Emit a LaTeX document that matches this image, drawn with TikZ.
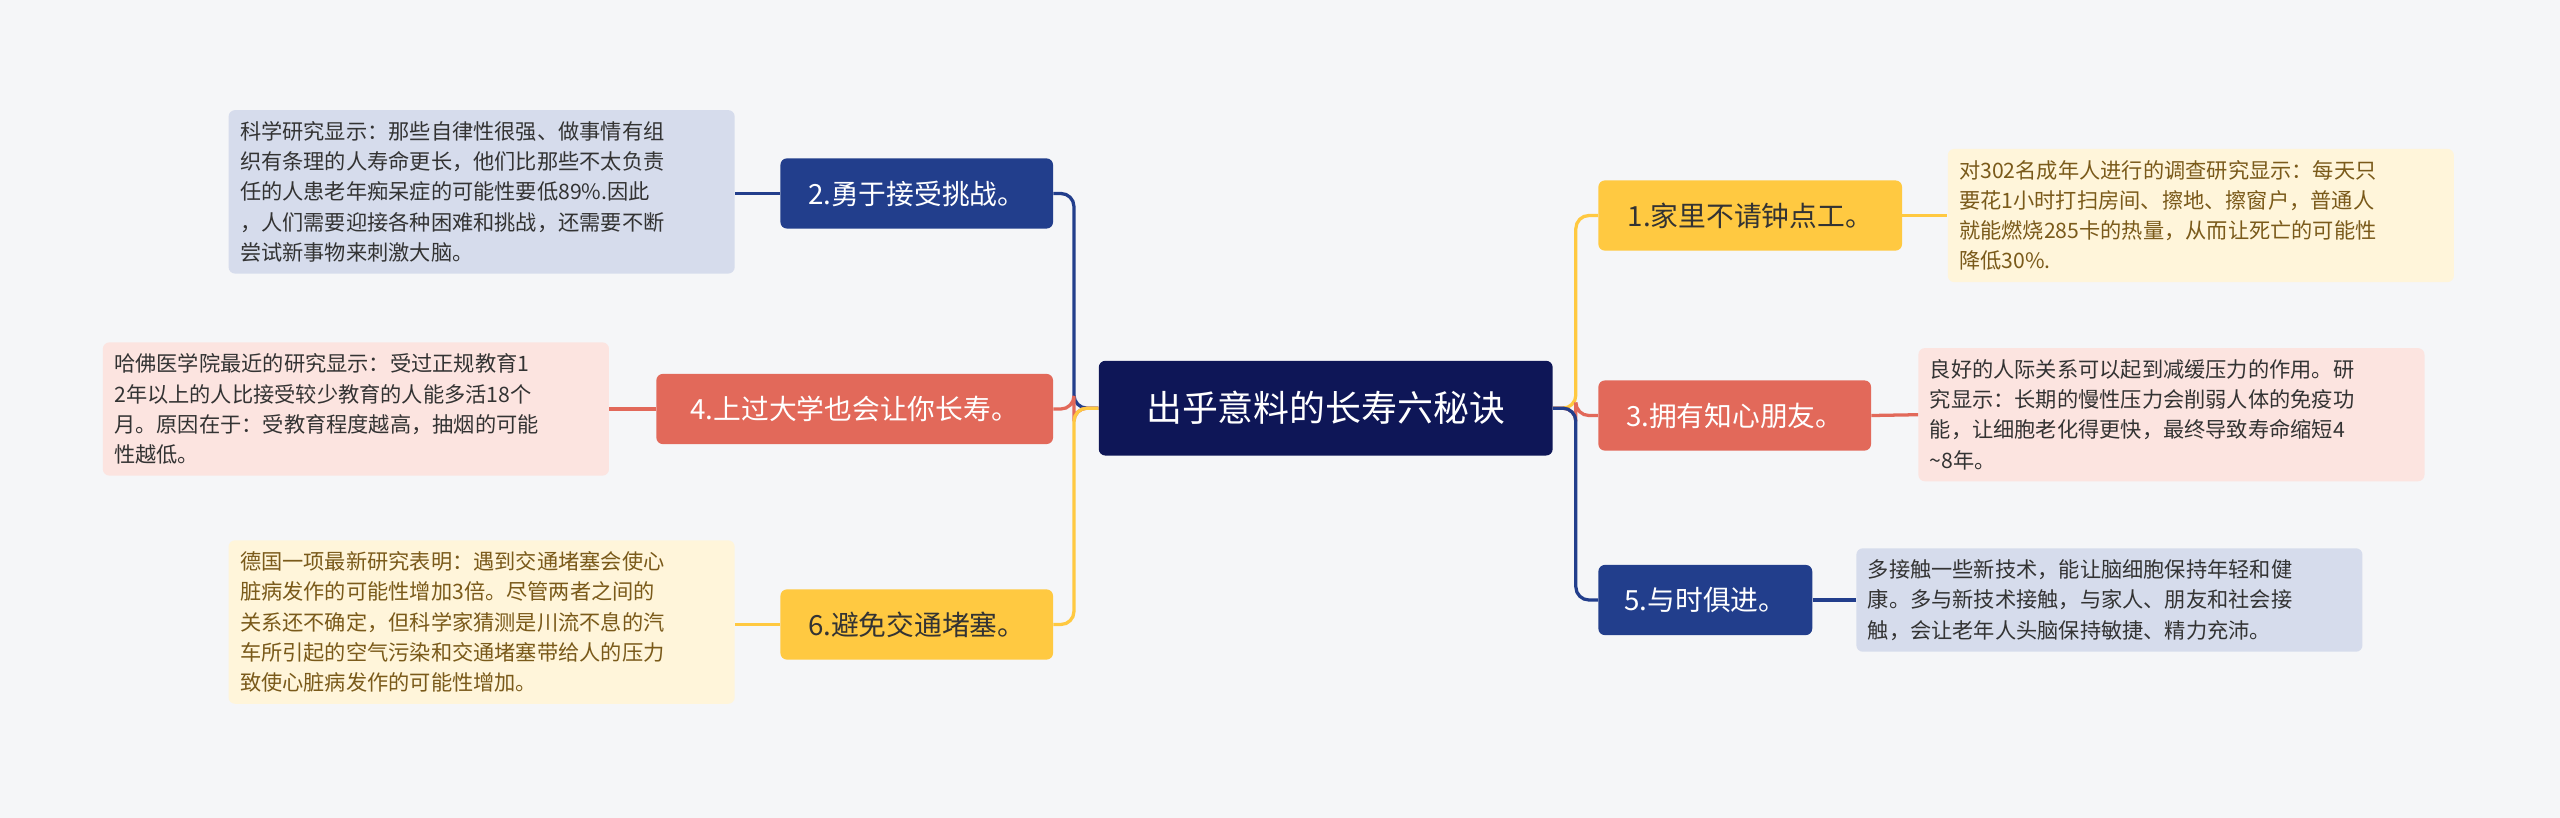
\documentclass[tikz,border=0pt]{standalone}
\usepackage{fontspec}
\setmainfont{Noto Sans CJK SC}
\usetikzlibrary{positioning}
\definecolor{bgc}{HTML}{F5F6F8}
\definecolor{hubc}{HTML}{0E1657}
\definecolor{navy}{HTML}{223E8C}
\definecolor{gold}{HTML}{FFC941}
\definecolor{coral}{HTML}{E2695A}
\definecolor{goldnote}{HTML}{FFF5DA}
\definecolor{coralnote}{HTML}{FCE4E0}
\definecolor{navynote}{HTML}{D6DCEC}
\definecolor{goldtext}{HTML}{7A5A1A}
\definecolor{darktext}{HTML}{333333}
\tikzset{
    % central topic
    hub/.style={
        rectangle, rounded corners=4pt, fill=hubc, text=white,
        minimum width=278pt, minimum height=58pt,
        font=\fontsize{22}{26}\selectfont
    },
    % main branch
    branch/.style={
        rectangle, rounded corners=4pt, fill=#1,
        minimum height=43pt, inner xsep=9pt,
        font=\fontsize{17}{20}\selectfont
    },
    % note box
    note/.style={
        rectangle, rounded corners=4pt, fill=#1,
        text width=296pt, inner sep=7pt, align=left,
        font=\fontsize{13}{18.5}\selectfont
    },
    % connectors
    link/.style={draw=#1, line width=2pt, rounded corners=8pt}
}
\begin{document}
\begin{tikzpicture}[x=1pt, y=-1pt]
    \fill[bgc] (0,0) rectangle (1568,501);
    \useasboundingbox (0,0) rectangle (1568,501);

    % central topic
    \node[hub] (hub) at (812,250) {出乎意料的长寿六秘诀};

    % right branches
    \node[branch=gold, text=darktext, minimum width=186pt] (tip1) at (1072,132) {1.家里不请钟点工。};
    \node[branch=coral, text=white, minimum width=167pt] (tip3) at (1062.5,254.5) {3.拥有知心朋友。};
    \node[branch=navy, text=white, minimum width=131pt] (tip5) at (1044.5,367.5) {5.与时俱进。};

    % left branches
    \node[branch=navy, text=white, minimum width=167pt] (tip2) at (561.5,118.5) {2.勇于接受挑战。};
    \node[branch=coral, text=white, minimum width=243pt] (tip4) at (523.5,250.5) {4.上过大学也会让你长寿。};
    \node[branch=gold, text=darktext, minimum width=167pt] (tip6) at (561.5,382.5) {6.避免交通堵塞。};

    % notes
    \node[note=goldnote, text=goldtext] (note1) at (1348,132) {对302名成年人进行的调查研究显示：每天只\\要花1小时打扫房间、擦地、擦窗户，普通人\\就能燃烧285卡的热量，从而让死亡的可能性\\降低30\%.};
    \node[note=coralnote, text=darktext] (note3) at (1330,254) {良好的人际关系可以起到减缓压力的作用。研\\究显示：长期的慢性压力会削弱人体的免疫功\\能，让细胞老化得更快，最终导致寿命缩短4\\\textasciitilde8年。};
    \node[note=navynote, text=darktext] (note5) at (1292,367.5) {多接触一些新技术，能让脑细胞保持年轻和健\\康。多与新技术接触，与家人、朋友和社会接\\触，会让老年人头脑保持敏捷、精力充沛。};
    \node[note=navynote, text=darktext] (note2) at (295,117.5) {科学研究显示：那些自律性很强、做事情有组\\织有条理的人寿命更长，他们比那些不太负责\\任的人患老年痴呆症的可能性要低89\%.因此\\，人们需要迎接各种困难和挑战，还需要不断\\尝试新事物来刺激大脑。};
    \node[note=coralnote, text=darktext] (note4) at (218,250.5) {哈佛医学院最近的研究显示：受过正规教育1\\2年以上的人比接受较少教育的人能多活18个\\月。原因在于：受教育程度越高，抽烟的可能\\性越低。};
    \node[note=goldnote, text=goldtext] (note6) at (295,381) {德国一项最新研究表明：遇到交通堵塞会使心\\脏病发作的可能性增加3倍。尽管两者之间的\\关系还不确定，但科学家猜测是川流不息的汽\\车所引起的空气污染和交通堵塞带给人的压力\\致使心脏病发作的可能性增加。};

    % connectors
    \draw[link=gold] (hub.east) -- ++(14,0) |- (tip1.west);
    \draw[link=coral] (hub.east) -- ++(14,0) |- (tip3.west);
    \draw[link=navy] (hub.east) -- ++(14,0) |- (tip5.west);
    \draw[link=navy] (hub.west) -- ++(-15,0) |- (tip2.east);
    \draw[link=coral] (hub.west) -- ++(-15,0) |- (tip4.east);
    \draw[link=gold] (hub.west) -- ++(-15,0) |- (tip6.east);
    \draw[link=gold] (tip1.east) -- (note1.west);
    \draw[link=coral] (tip3.east) -- (note3.west);
    \draw[link=navy] (tip5.east) -- (note5.west);
    \draw[link=navy] (tip2.west) -- (note2.east |- tip2.west);
    \draw[link=coral] (tip4.west) -- (note4.east |- tip4.west);
    \draw[link=gold] (tip6.west) -- (note6.east |- tip6.west);
\end{tikzpicture}
\end{document}
